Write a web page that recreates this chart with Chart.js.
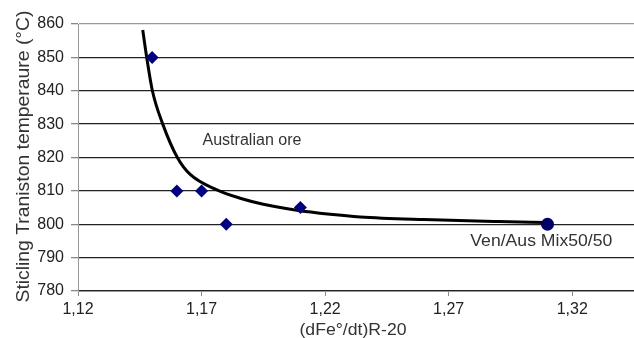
<!DOCTYPE html>
<html>
<head>
<meta charset="utf-8">
<script src="https://cdn.jsdelivr.net/npm/chart.js@4/dist/chart.umd.min.js"></script>
<style>
  html, body { margin: 0; padding: 0; background: #fff; }
</style>
</head>
<body>
<canvas id="myChart" width="634" height="338"></canvas>
<script>
// measured points
const australianX = [1.15, 1.16, 1.17, 1.18, 1.21];
const australianY = [850, 810, 810, 800, 805];
const mixX = [1.31];
const mixY = [800];

// trend line
const trendX = [1.1462, 1.1478, 1.1501, 1.1543, 1.1602, 1.1653, 1.1762, 1.1856, 1.195, 1.2085, 1.222, 1.2342, 1.26, 1.29, 1.31];
const trendY = [858.2, 850, 840, 830, 820, 815, 810.3, 807.8, 806, 804.2, 803, 802.2, 801.4, 800.8, 800.5];

const xTicks = [1.12, 1.17, 1.22, 1.27, 1.32];
const yTicks = [780, 790, 800, 810, 820, 830, 840, 850, 860];

const labelText = ['Australian ore', 'Ven/Aus Mix50/50'];
const labelX = [1.1904, 1.3075];
const labelY = [825.2, 795];
const xTitle = '(dFe°/dt)R-20';
const yTitle = 'Sticling Traniston temperaure (°C)';

const FONT = '"Liberation Sans", Arial, sans-serif';

function pts(xs, ys) {
    return xs.map(function(x, i) { return { x: x, y: ys[i] }; });
}

// draw text stretched to a given width (the source font is a bit wider)
function fillFitted(ctx, text, x, y, width) {
    var w = ctx.measureText(text).width;
    ctx.save();
    ctx.translate(x, y);
    ctx.scale(width / w, 1);
    ctx.fillText(text, 0, 0);
    ctx.restore();
}

const textPlugin = {
    id: 'texts',
    afterDraw: function(chart) {
        const ctx = chart.ctx;
        const xs = chart.scales.x, ys = chart.scales.y;
        const area = chart.chartArea;
        ctx.save();
        ctx.fillStyle = '#333';
        ctx.textAlign = 'center';
        ctx.textBaseline = 'middle';

        ctx.font = '16px ' + FONT;
        fillFitted(ctx, labelText[0], xs.getPixelForValue(labelX[0]), ys.getPixelForValue(labelY[0]), 99);
        ctx.font = '17px ' + FONT;
        fillFitted(ctx, labelText[1], xs.getPixelForValue(labelX[1]), ys.getPixelForValue(labelY[1]), 142);

        // x axis title
        ctx.font = '16px ' + FONT;
        fillFitted(ctx, xTitle, (area.left + area.right) / 2 - 3, area.bottom + 40, 107);

        // y axis title
        ctx.translate(24, (area.top + area.bottom) / 2 - 1);
        ctx.rotate(-Math.PI / 2);
        ctx.font = '18px ' + FONT;
        fillFitted(ctx, yTitle, 0, 0, 292);
        ctx.restore();
    }
};

const config = {
    type: 'scatter',
    data: {
        datasets: [{
            label: 'trend',
            data: pts(trendX, trendY),
            showLine: true,
            borderColor: '#000',
            borderWidth: 3,
            pointRadius: 0,
            cubicInterpolationMode: 'monotone',
            order: 2
        }, {
            label: 'Australian ore',
            data: pts(australianX, australianY),
            pointStyle: 'rectRot',
            pointRadius: 6.5,
            backgroundColor: '#000080',
            borderColor: '#000080',
            borderWidth: 0,
            order: 1
        }, {
            label: 'Mix',
            data: pts(mixX, mixY),
            pointStyle: 'circle',
            pointRadius: 6.5,
            backgroundColor: '#000066',
            borderColor: '#000066',
            borderWidth: 0,
            order: 1
        }]
    },
    options: {
        responsive: false,
        animation: false,
        layout: { autoPadding: false, padding: { top: 24, right: 0, left: 0, bottom: 0 } },
        plugins: {
            legend: { display: false },
            tooltip: { enabled: false }
        },
        scales: {
            x: {
                type: 'linear',
                min: 1.12,
                max: 1.345,
                afterBuildTicks: function(scale) {
                    scale.ticks = xTicks.map(function(v) { return { value: v }; });
                },
                afterFit: function(scale) { scale.height = 47; },
                ticks: {
                    padding: 4,
                    color: '#222',
                    font: { family: FONT, size: 16 },
                    callback: function(v) { return v.toFixed(2).replace('.', ','); }
                },
                grid: {
                    drawOnChartArea: false,
                    drawTicks: true,
                    tickLength: 5,
                    color: '#888'
                },
                border: { color: '#999', width: 1 }
            },
            y: {
                min: 780,
                max: 860,
                afterBuildTicks: function(scale) {
                    scale.ticks = yTicks.map(function(v) { return { value: v }; });
                },
                afterFit: function(scale) { scale.width = 78; },
                ticks: {
                    padding: 7,
                    color: '#222',
                    font: { family: FONT, size: 16 }
                },
                grid: {
                    color: function(c) {
                        if (c.tick && c.tick.value === 860) return '#999';
                        return '#222';
                    },
                    lineWidth: 1.3,
                    tickLength: 7,
                    tickColor: '#888'
                },
                border: { color: '#999', width: 1 }
            }
        }
    },
    plugins: [textPlugin]
};

const myChart = new Chart(document.getElementById('myChart'), config);
</script>
</body>
</html>
